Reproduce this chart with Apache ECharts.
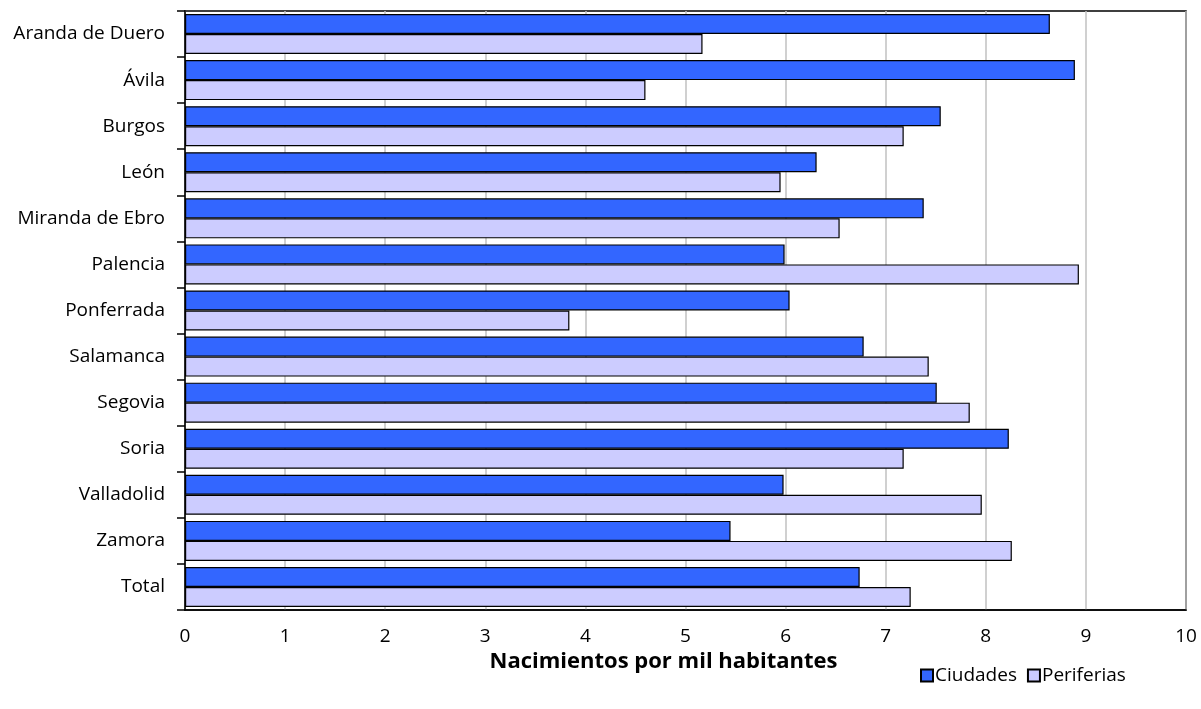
<!DOCTYPE html>
<html><head><meta charset="utf-8">
<script src="https://cdn.jsdelivr.net/npm/echarts@6/dist/echarts.min.js"></script>
<style>html,body{margin:0;padding:0;background:#fff}#c{width:1201px;height:709px}</style>
</head><body><div id="c"></div>
<script>
const categories = ["Aranda de Duero","Ávila","Burgos","León","Miranda de Ebro","Palencia","Ponferrada","Salamanca","Segovia","Soria","Valladolid","Zamora","Total"];
const ciudades = [8.64,8.89,7.55,6.31,7.38,5.99,6.04,6.78,7.51,8.23,5.98,5.45,6.74];
const periferias = [5.17,4.60,7.18,5.95,6.54,8.93,3.84,7.43,7.84,7.18,7.96,8.26,7.25];
const xTicks = [0,1,2,3,4,5,6,7,8,9,10];
const FONT = "Open Sans";
const chart = echarts.init(document.getElementById('c'), null, {renderer:'canvas'});
chart.setOption({
  animation:false,
  textStyle:{fontFamily:FONT},
  grid:{left:185,right:15,top:11,bottom:99,show:true,borderColor:'#000',borderWidth:1.5},
  legend:{
    data:['Ciudades','Periferias'],
    left:915, top:661, itemWidth:12, itemHeight:12, itemGap:10,
    icon:'rect',
    textStyle:{fontFamily:FONT,fontSize:19,color:'#000',padding:[0,0,0,-3]}
  },
  xAxis:{
    type:'value', min:xTicks[0], max:xTicks[xTicks.length-1], interval:1,
    name:'Nacimientos por mil habitantes', nameLocation:'middle', nameGap:41,
    nameTextStyle:{fontFamily:FONT,fontSize:22,fontWeight:'bold',color:'#000',padding:[0,44,0,0]},
    axisLine:{show:true,lineStyle:{color:'#000',width:1.5}},
    axisTick:{show:false},
    axisLabel:{fontFamily:FONT,fontSize:19,color:'#000',margin:17},
    splitLine:{show:true,lineStyle:{color:'#c0c0c0',width:1.5}}
  },
  yAxis:{
    type:'category', data:categories, inverse:true,
    axisLine:{show:true,lineStyle:{color:'#000',width:1.5}},
    axisTick:{show:true,length:8,lineStyle:{color:'#000',width:1.5}},
    axisLabel:{fontFamily:FONT,fontSize:19,color:'#000',margin:20}
  },
  series:[
    {name:'Ciudades',type:'bar',data:ciudades,barWidth:20,barGap:'0%',
     itemStyle:{color:'#3366FF',borderColor:'#000',borderWidth:1.2}},
    {name:'Periferias',type:'bar',data:periferias,barWidth:20,barGap:'0%',
     itemStyle:{color:'#CCCCFF',borderColor:'#000',borderWidth:1.2}}
  ]
});
</script></body></html>
